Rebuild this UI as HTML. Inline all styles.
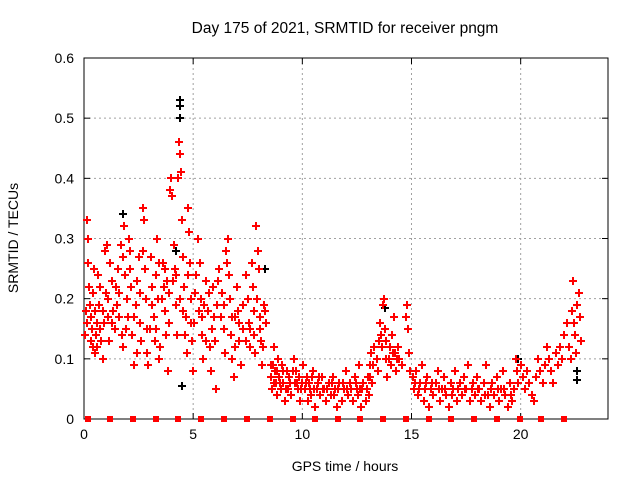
<!DOCTYPE html>
<html><head><meta charset="utf-8"><style>
body{margin:0;background:#fff;}
svg text{font-family:"Liberation Sans",sans-serif;fill:#000;}
</style></head><body>
<svg id="chart" width="640" height="480" xmlns="http://www.w3.org/2000/svg">
<g id="grid"></g>
<g id="axes"></g>
<g id="marks" shape-rendering="crispEdges"></g>
<text x="345" y="33" font-size="15.5" text-anchor="middle">Day 175 of 2021, SRMTID for receiver pngm</text>
<text x="345" y="471" font-size="14" text-anchor="middle">GPS time / hours</text>
<text x="0" y="0" font-size="14" text-anchor="middle" transform="translate(18,238) rotate(-90)">SRMTID / TECUs</text>
</svg>
<script>
const xTicks = [0,5,10,15,20];
const yTicks = [0,0.1,0.2,0.3,0.4,0.5,0.6];
const yTickLabels = ["0","0.1","0.2","0.3","0.4","0.5","0.6"];
const markerHours = [0.18,1.2,2.25,3.28,4.32,5.35,6.4,7.45,8.5,9.55,10.6,11.65,12.65,13.7,14.75,15.8,16.8,17.85,18.9,19.95,20.95,22.0];
const blackSeries = [[4.4,0.53],[4.4,0.52],[4.4,0.5],[4.5,0.055],[1.8,0.34],[4.2,0.28],[13.8,0.185],[22.6,0.08],[22.6,0.065],[19.9,0.1],[8.3,0.25]];
const redSeries = [
[0.05,.14],[0.1,.18],[0.15,.33],[0.2,.30],[0.2,.26],[0.25,.22],[0.3,.17],[0.3,.13],[0.35,.15],[0.4,.21],[0.45,.25],[0.5,.18],[0.5,.11],[0.55,.14],[0.6,.12],[0.65,.24],[0.7,.19],[0.75,.15],[0.8,.13],[0.85,.10],[0.9,.16],[0.95,.28],[1.0,.21],
[1.05,.29],[1.1,.17],[1.15,.13],[1.2,.26],[1.3,.23],[1.35,.18],[1.4,.15],[1.5,.19],[1.55,.25],[1.6,.21],[1.7,.29],[1.75,.14],[1.8,.12],[1.85,.32],[1.9,.24],[1.95,.20],[2.0,.17],
[2.05,.30],[2.1,.28],[2.15,.22],[2.2,.14],[2.3,.09],[2.4,.19],[2.45,.23],[2.5,.27],[2.55,.16],[2.6,.13],[2.7,.35],[2.75,.33],[2.8,.25],[2.85,.20],[2.9,.11],[2.95,.09],[3.0,.15],
[3.05,.27],[3.1,.22],[3.2,.17],[3.25,.13],[3.3,.24],[3.35,.30],[3.4,.20],[3.45,.10],[3.5,.12],[3.6,.26],[3.65,.22],[3.7,.18],[3.75,.14],[3.8,.23],[3.85,.08],[3.9,.16],[3.95,.38],[4.0,.40],
[4.05,.37],[4.1,.29],[4.15,.25],[4.2,.19],[4.25,.14],[4.3,.40],[4.35,.46],[4.4,.44],[4.45,.41],[4.5,.33],[4.55,.27],[4.6,.22],[4.65,.17],[4.7,.11],[4.75,.35],[4.8,.31],[4.85,.26],[4.9,.20],[4.95,.13],[5.0,.08],
[5.05,.16],[5.15,.24],[5.2,.30],[5.3,.26],[5.35,.20],[5.4,.14],[5.45,.10],[5.5,.19],[5.6,.23],[5.7,.18],[5.75,.12],[5.8,.08],[5.9,.22],[5.95,.17],[6.0,.13],
[6.05,.05],[6.1,.19],[6.2,.25],[6.3,.21],[6.4,.15],[6.45,.11],[6.5,.28],[6.55,.26],[6.6,.30],[6.7,.20],[6.75,.14],[6.8,.10],[6.85,.07],[6.9,.17],[7.0,.22],
[7.05,.18],[7.1,.13],[7.2,.09],[7.3,.15],[7.4,.24],[7.5,.20],[7.55,.16],[7.6,.12],[7.7,.26],[7.75,.22],[7.8,.18],[7.85,.11],[7.9,.32],[7.95,.28],[8.0,.25],[8.05,.17],[8.1,.13],[8.15,.09],[8.25,.19],[8.35,.16],
[0.12,.16],[0.28,.19],[0.42,.12],[0.58,.16],[0.72,.22],[0.88,.18],[1.12,.20],[1.28,.16],[1.45,.22],[1.62,.17],[1.78,.27],[1.92,.15],[2.12,.25],[2.28,.17],[2.42,.11],[2.58,.21],[2.72,.28],[2.88,.15],[3.12,.19],[3.28,.15],[3.42,.26],[3.58,.20],[3.72,.25],[3.88,.21],[4.08,.23],[4.22,.24],[4.38,.20],[4.52,.18],[4.62,.14],[4.78,.24],[4.92,.16],[5.1,.21],[5.25,.18],[5.42,.17],[5.58,.13],[5.72,.21],[5.88,.15],[6.12,.23],[6.28,.17],[6.42,.19],[6.62,.24],[6.78,.17],[6.92,.12],[7.12,.16],[7.28,.19],[7.42,.13],[7.62,.15],[7.78,.14],[7.92,.20],[8.08,.15],[8.2,.12],[8.3,.18],
[8.55,.07],[8.6,.05],[8.65,.09],[8.7,.12],[8.75,.08],[8.8,.06],[8.85,.04],[8.9,.10],[8.95,.07],[9.0,.05],[9.05,.09],[9.1,.06],[9.2,.03],[9.3,.08],[9.35,.05],[9.4,.07],[9.5,.04],[9.6,.10],[9.65,.06],[9.7,.08],[9.8,.05],[9.9,.03],[10.0,.06],
[8.58,.09],[8.72,.06],[8.82,.08],[8.98,.06],[9.12,.08],[9.25,.05],[9.45,.06],[9.55,.08],[9.75,.06],[9.85,.07],[9.95,.05],[10.15,.06],[10.35,.05],[10.45,.07],[10.65,.05],[10.75,.07],[10.95,.05],[11.15,.05],[11.35,.06],[11.45,.04],[11.65,.05],[11.85,.06],[12.05,.05],[12.25,.05],[12.45,.06],[12.55,.04],[12.75,.05],[12.95,.05],[13.12,.07],[13.25,.09],
[10.05,.09],[10.1,.05],[10.2,.07],[10.25,.03],[10.3,.06],[10.4,.04],[10.5,.08],[10.55,.05],[10.6,.02],[10.7,.06],[10.8,.04],[10.9,.07],[11.0,.05],[11.1,.03],[11.2,.06],[11.3,.04],[11.4,.07],[11.5,.05],[11.6,.02],[11.7,.06],[11.8,.03],[11.9,.05],[12.0,.08],
[12.1,.04],[12.2,.06],[12.3,.03],[12.4,.07],[12.5,.05],[12.6,.09],[12.65,.05],[12.7,.02],[12.8,.06],[12.9,.03],[13.0,.07],[13.05,.04],[13.1,.09],[13.15,.11],[13.2,.06],[13.3,.12],
[13.4,.10],[13.5,.13],[13.55,.16],[13.6,.14],[13.7,.19],[13.75,.20],[13.8,.15],[13.85,.10],[13.9,.07],[14.0,.12],[14.05,.09],[14.1,.14],[14.2,.17],[14.25,.11],[14.3,.08],[14.4,.12],[14.45,.10],[14.55,.09],
[13.45,.08],[13.65,.12],[13.82,.13],[13.95,.10],[14.15,.11],[14.35,.10],
[14.75,.17],[14.8,.19],[14.85,.15],[14.9,.11],[14.95,.08],
[15.05,.07],[15.1,.05],[15.2,.08],[15.3,.04],[15.4,.06],[15.5,.09],[15.55,.03],[15.6,.05],[15.7,.07],[15.8,.02],[15.9,.05],[16.0,.04],[16.1,.06],[16.2,.08],[16.3,.03],[16.4,.05],[16.5,.07],[16.6,.04],[16.7,.02],[16.8,.06],[16.9,.05],[17.0,.08],[17.1,.03],[17.2,.06],[17.3,.04],[17.4,.07],[17.5,.05],[17.6,.09],[17.7,.03],[17.8,.06],[17.9,.04],[18.0,.07],[18.1,.05],[18.2,.03],[18.3,.06],[18.4,.09],[18.5,.04],[18.6,.02],[18.7,.06],[18.8,.04],[18.9,.07],[19.0,.03],[19.1,.05],[19.2,.08],[19.3,.04],[19.4,.02],[19.5,.06],[19.6,.03],[19.7,.05],
[15.15,.06],[15.35,.05],[15.65,.06],[15.95,.06],[16.25,.05],[16.55,.05],[16.85,.04],[17.15,.05],[17.45,.05],[17.75,.05],[18.05,.05],[18.35,.04],[18.65,.05],[18.95,.05],[19.25,.05],[19.55,.04],
[19.8,.10],[19.85,.08],[19.9,.06],[20.0,.09],[20.1,.07],[20.2,.05],[20.3,.08],[20.4,.06],[20.5,.04],[20.6,.03],[20.7,.07],[20.8,.10],[20.9,.08],[21.0,.06],[21.1,.09],[21.2,.12],[21.3,.10],[21.4,.08],[21.5,.06],[21.6,.11],[21.7,.09],[21.8,.12],[21.9,.10],[22.0,.14],[22.1,.16],[22.2,.12],[22.3,.10],[22.35,.18],[22.4,.23],[22.45,.16],[22.5,.14],[22.55,.11],[22.6,.19],[22.65,.21],[22.7,.17],[22.75,.13]
];

const L=84,R=608,T=58,B=419,XMAX=24,YMAX=0.6;
function xs(h){return L+(h/XMAX)*(R-L);}
function ys(v){return B-(v/YMAX)*(B-T);}
const NS="http://www.w3.org/2000/svg";
function mk(tag,attrs,parent){const e=document.createElementNS(NS,tag);for(const k in attrs)e.setAttribute(k,attrs[k]);parent.appendChild(e);return e;}
const grid=document.getElementById('grid'),axes=document.getElementById('axes'),marks=document.getElementById('marks');

yTicks.forEach((t,i)=>{
  const y=ys(t);
  if(i>0&&i<yTicks.length-1){const g=mk('line',{x1:L,x2:R,y1:y,y2:y,stroke:'#a0a0a0','stroke-dasharray':'2,3'},grid);
  
  }
  mk('line',{x1:L,x2:L+6,y1:y,y2:y,stroke:'#000'},axes);
  mk('line',{x1:R,x2:R-6,y1:y,y2:y,stroke:'#000'},axes);
  const tx=mk('text',{x:L-10,y:y+5,'font-size':14,'text-anchor':'end'},axes);
  tx.textContent=yTickLabels[i];
  
  
});
xTicks.forEach((t,i)=>{
  const x=xs(t);
  if(i>0){const g=mk('line',{x1:x,x2:x,y1:T,y2:B,stroke:'#a0a0a0','stroke-dasharray':'2,3'},grid);
  
  }
  mk('line',{x1:x,x2:x,y1:B,y2:B-6,stroke:'#000'},axes);
  mk('line',{x1:x,x2:x,y1:T,y2:T+6,stroke:'#000'},axes);
  const tx=mk('text',{x:x,y:B+20,'font-size':14,'text-anchor':'middle'},axes);
  tx.textContent=String(t);
  
  
});
const frame=mk('rect',{x:L,y:T,width:R-L,height:B-T,fill:'none',stroke:'#000'},axes);



function plus(h,v,color){
  const x=Math.round(xs(h)),y=Math.round(ys(v));
  const g=mk('g',{fill:color},marks);
  mk('rect',{x:x-4,y:y-1,width:8,height:2},g);
  mk('rect',{x:x-1,y:y-4,width:2,height:8},g);
  return g;
}
blackSeries.forEach(d=>{
  const p=plus(d[0],d[1],'#000000');
  
  
});
redSeries.forEach(d=>{
  const p=plus(d[0],d[1],'#ff0000');
  
  
});
markerHours.forEach(h=>{
  const r=mk('rect',{x:Math.round(xs(h))-3,y:B-3,width:6,height:6,fill:'#ff0000'},marks);
  
  
});
</script>
</body></html>
